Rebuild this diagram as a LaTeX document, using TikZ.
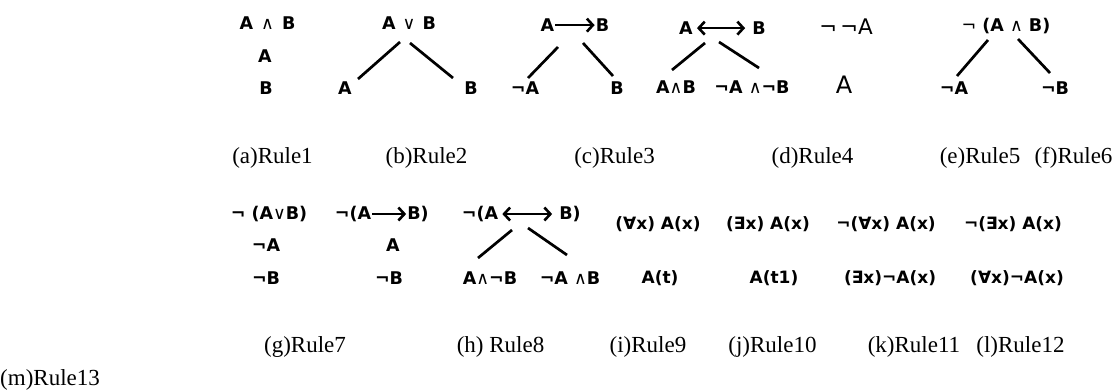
\documentclass[tikz,border=0pt]{standalone}
\usepackage{fontspec}
\setmainfont{Liberation Serif}
\newfontfamily\fdv{DejaVu Sans}
\usetikzlibrary{arrows.meta,calc}
\newcommand\nsym[1]{{\mdseries #1}}
\begin{document}
\begin{tikzpicture}[x=1pt,y=-1pt,
  fm/.style={inner sep=0pt,anchor=base,font=\fdv\bfseries\fontsize{17.5}{19}\selectfont},
  fq/.style={fm,font=\fdv\bfseries\fontsize{17}{19}\selectfont},
  fr/.style={inner sep=0pt,anchor=base,font=\fdv\fontsize{#1}{#1}\selectfont},
  lab/.style={inner sep=0pt,anchor=base,font=\fontsize{23}{26}\selectfont},
  br/.style={line width=2.7pt},
  imp/.style={line width=2.6pt,-{Straight Barb[length=6pt,width=13pt]},shorten <=1pt,shorten >=1pt},
  iff/.style={line width=2.6pt,{Straight Barb[length=6pt,width=13pt]}-{Straight Barb[length=6pt,width=13pt]},shorten <=4pt,shorten >=7pt}
]
\useasboundingbox[fill=white] (0,0) rectangle (1118,391);

% ---- Rule 1
\node[fm] (r1t) at (267.5,29.5) {A\hspace{8pt}\nsym{∧}\hspace{8pt}B};
\node[fm] (r1a) at (265,62.5) {A};
\node[fm] (r1b) at (266,94.5) {B};

% ---- Rule 2
\node[fm] (r2t) at (409,29.5) {A\hspace{7pt}\nsym{∨}\hspace{7pt}B};
\node[fm] (r2a) at (345,94.5) {A};
\node[fm] (r2b) at (471,94.5) {B};
\draw[br] ([shift={(-9,12.5)}]r2t.base) -- ([shift={(13,-15.5)}]r2a.base);
\draw[br] ([shift={(1,13.5)}]r2t.base) -- ([shift={(-18,-16.5)}]r2b.base);

% ---- Rule 3
\node[fm] (r3A) at (547.5,31.5) {A};
\node[fm] (r3B) at (602.5,31.5) {B};
\draw[imp] (r3A.east) -- (r3B.west);
\node[fm] (r3a) at (525,94.5) {¬A};
\node[fm] (r3b) at (617,94.5) {B};
\draw[br] ([shift={(10.5,15.5)}]r3A.base) -- ([shift={(3,-16.5)}]r3a.base);
\draw[br] ([shift={(-19.5,11.5)}]r3B.base) -- ([shift={(-4,-18.5)}]r3b.base);

% ---- Rule 4 (biconditional)
\node[fm] (r4A) at (686,34.5) {A};
\node[fm] (r4B) at (759,34.5) {B};
\draw[iff] (r4A.east) -- (r4B.west);
\node[fm] (r4a) at (676,93.5) {A\nsym{∧}B};
\node[fm] (r4b) at (752,93.5) {¬A \nsym{∧}¬B};
\draw[br] ([shift={(19,8.5)}]r4A.base) -- ([shift={(-4,-23.5)}]r4a.base);
\draw[br] ([shift={(-40,7.5)}]r4B.base) -- ([shift={(7,-25.5)}]r4b.base);

% ---- double negation
\node[inner sep=0pt,anchor=base] (r5t) at (846,34.5) {{\fdv\fontsize{21}{22}\selectfont ¬\,¬}{\fdv\fontsize{21.5}{22}\selectfont A}};
\node[fr=24] (r5a) at (844,93.5) {A};

% ---- negated conjunction
\node[fm] (r6t) at (1006,31.5) {\nsym{¬} (A \nsym{∧} B)};
\node[fm] (r6a) at (954,94.5) {¬A};
\node[fm] (r6b) at (1055,94.5) {¬B};
\draw[br] ([shift={(-18,8.5)}]r6t.base) -- ([shift={(3,-18.5)}]r6a.base);
\draw[br] ([shift={(12,7.5)}]r6t.base) -- ([shift={(-5,-21.5)}]r6b.base);

% ---- labels row 1
\node[lab] (la) at (272.5,163.5) {(a)Rule1};
\node[lab] (lb) at (426.5,163.5) {(b)Rule2};
\node[lab] (lc) at (614.5,163.5) {(c)Rule3};
\node[lab] (ld) at (812.5,163.5) {(d)Rule4};
\node[lab] (le) at (980,163.5) {(e)Rule5};
\node[lab] (lf) at (1073.5,163.5) {(f)Rule6};

% ---- Rule 7 (neg. disjunction)
\node[fm] (r7t) at (269,219.5) {¬ (A\nsym{∨}B)};
\node[fm] (r7a) at (266,251.5) {¬A};
\node[fm] (r7b) at (266,284.5) {¬B};

% ---- neg. implication
\node[fm] (r8L) at (353,219.5) {¬(A};
\node[fm] (r8R) at (418,219.5) {B)};
\draw[imp] (r8L.east) -- (r8R.west);
\node[fm] (r8a) at (393,251.5) {A};
\node[fm] (r8b) at (389,284.5) {¬B};

% ---- neg. biconditional
\node[fm] (r9L) at (480,219.5) {¬(A};
\node[fm] (r9R) at (570,219.5) {B)};
\draw[iff] (r9L.east) -- (r9R.west);
\node[fm] (r9a) at (490,284.5) {A\nsym{∧}¬B};
\node[fm] (r9b) at (570,284.5) {¬A \nsym{∧}B};
\draw[br] ([shift={(32,10.5)}]r9L.base) -- ([shift={(-12,-26.5)}]r9a.base);
\draw[br] ([shift={(48,8.5)}]r9L.base) -- ([shift={(-3,-29.5)}]r9b.base);

% ---- quantifier rules
\node[fq] (q1t) at (658,229.5) {(∀x) A(x)};
\node[fq] (q1b) at (660,283.5) {A(t)};
\node[fq] (q2t) at (768,229.5) {(∃x) A(x)};
\node[fq] (q2b) at (774,283.5) {A(t1)};
\node[fq] (q3t) at (886,229.5) {¬(∀x) A(x)};
\node[fq] (q3b) at (890,283.5) {(∃x)¬A(x)};
\node[fq] (q4t) at (1013,229.5) {¬(∃x) A(x)};
\node[fq] (q4b) at (1017,283.5) {(∀x)¬A(x)};

% ---- labels row 2
\node[lab] (lg) at (305,352) {(g)Rule7};
\node[lab] (lh) at (500.5,352) {(h) Rule8};
\node[lab] (li) at (648,352) {(i)Rule9};
\node[lab] (lj) at (772.5,352) {(j)Rule10};
\node[lab] (lk) at (914,352) {(k)Rule11};
\node[lab] (ll) at (1020.5,352) {(l)Rule12};
\node[lab,anchor=base west] (lm) at (0,385) {(m)Rule13};
\end{tikzpicture}
\end{document}
